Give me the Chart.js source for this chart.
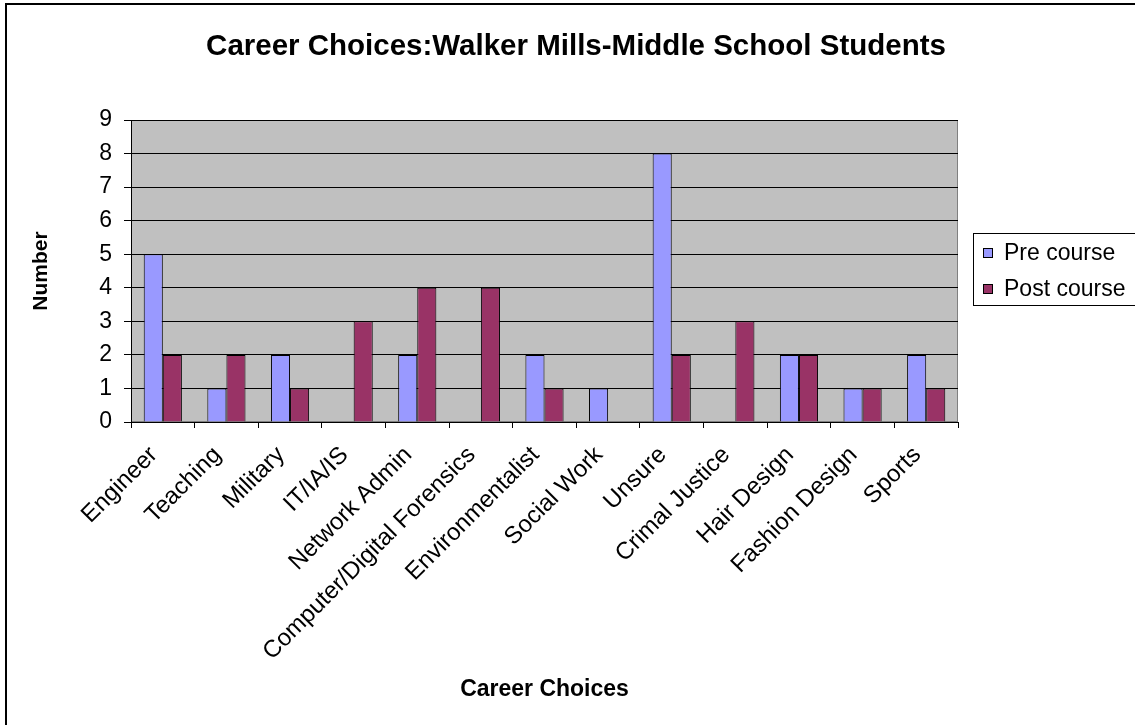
<!DOCTYPE html>
<html><head><meta charset="utf-8">
<script src="https://cdn.jsdelivr.net/npm/chart.js@4/dist/chart.umd.min.js"></script>
<style>html,body{margin:0;padding:0;background:#fff;overflow:hidden;} #wrap{width:1135px;height:725px;position:relative;}</style>
</head><body><div id="wrap"><canvas id="c" width="1135" height="725"></canvas></div>
<script>
const categories = ['Engineer','Teaching','Military','IT/IA/IS','Network Admin','Computer/Digital Forensics','Environmentalist','Social Work','Unsure','Crimal Justice','Hair Design','Fashion Design','Sports'];
const preCourse = [5,1,2,0,2,0,2,1,8,0,2,1,2];
const postCourse = [2,2,1,3,4,4,1,0,2,3,2,1,1];
const seriesNames = ['Pre course','Post course'];
const seriesColors = ['#9999FF','#993366'];
const chartTitle = 'Career Choices:Walker Mills-Middle School Students';
const xTitle = 'Career Choices';
const yTitle = 'Number';
const yMin = 0, yMax = 9, yStep = 1;

const FONT = "'Liberation Sans', Arial, sans-serif";

const decorPlugin = {
  id: 'decor',
  beforeDraw(chart) {
    const ctx = chart.ctx, a = chart.chartArea;
    ctx.save();
    ctx.fillStyle = '#fff';
    ctx.fillRect(0, 0, chart.width, chart.height);
    // outer frame
    ctx.strokeStyle = '#000';
    ctx.lineWidth = 2;
    ctx.beginPath();
    ctx.moveTo(6, chart.height + 2);
    ctx.lineTo(6, 4);
    ctx.lineTo(chart.width + 2, 4);
    ctx.stroke();
    // plot background
    ctx.fillStyle = '#C0C0C0';
    ctx.fillRect(a.left, a.top, a.right - a.left, a.bottom - a.top);
    ctx.strokeStyle = '#808080';
    ctx.lineWidth = 1;
    ctx.strokeRect(a.left + 0.5, a.top + 0.5, a.right - a.left - 1, a.bottom - a.top - 1);
    ctx.restore();
  },
  afterDraw(chart) {
    const ctx = chart.ctx;
    ctx.save();
    // title
    ctx.fillStyle = '#000';
    ctx.font = "bold 29.5px " + FONT;
    ctx.textAlign = 'center';
    ctx.textBaseline = 'alphabetic';
    ctx.fillText(chartTitle, 576, 55);
    // legend
    const lx = 973, ly = 233, lw = 200, lh = 72;
    ctx.fillStyle = '#fff';
    ctx.fillRect(lx, ly, lw, lh);
    ctx.strokeStyle = '#000';
    ctx.lineWidth = 1;
    ctx.strokeRect(lx + 0.5, ly + 0.5, lw, lh);
    ctx.font = "23px " + FONT;
    ctx.textAlign = 'left';
    ctx.textBaseline = 'middle';
    chart.data.datasets.forEach((ds, i) => {
      const cy = 253 + i * 36;
      ctx.fillStyle = ds.backgroundColor;
      ctx.fillRect(983, cy - 5, 10, 10);
      ctx.strokeStyle = '#000';
      ctx.strokeRect(983.5, cy - 4.5, 9, 9);
      ctx.fillStyle = '#000';
      ctx.fillText(ds.label, 1004, cy + 1);
    });
    ctx.restore();
  }
};

new Chart(document.getElementById('c'), {
  type: 'bar',
  data: {
    labels: categories,
    datasets: [
      { label: seriesNames[0], data: preCourse, backgroundColor: seriesColors[0], borderColor: '#000', borderWidth: 1 },
      { label: seriesNames[1], data: postCourse, backgroundColor: seriesColors[1], borderColor: '#000', borderWidth: 1 }
    ]
  },
  options: {
    responsive: false,
    animation: false,
    devicePixelRatio: 1,
    layout: { padding: { top: 120, right: 177, bottom: 0, left: 0 } },
    datasets: { bar: { barPercentage: 1.0, categoryPercentage: 0.6 } },
    plugins: { legend: { display: false }, title: { display: false }, tooltip: { enabled: false } },
    scales: {
      x: {
        offset: true,
        grid: { display: true, drawOnChartArea: false, drawTicks: true, tickLength: 6, color: '#000', offset: true },
        border: { color: '#000', width: 1 },
        ticks: { minRotation: 45, maxRotation: 45, autoSkip: false, color: '#000', font: { family: FONT, size: 24 }, padding: 13, labelOffset: -9 },
        title: { display: true, text: xTitle, color: '#000', font: { family: FONT, size: 23, weight: 'bold' }, padding: { top: 0, bottom: 22 } },
        afterFit(s) { s.height = 725 - 422; }
      },
      y: {
        min: yMin, max: yMax,
        grid: { color: '#000', tickLength: 7, drawTicks: true },
        border: { color: '#000', width: 1 },
        ticks: { stepSize: yStep, color: '#000', font: { family: FONT, size: 23 }, padding: 12 },
        title: { display: true, text: yTitle, color: '#000', font: { family: FONT, size: 21, weight: 'bold' }, padding: { top: 29, bottom: 0 } },
        afterFit(s) { s.width = 131; }
      }
    }
  },
  plugins: [decorPlugin]
});
</script></body></html>
